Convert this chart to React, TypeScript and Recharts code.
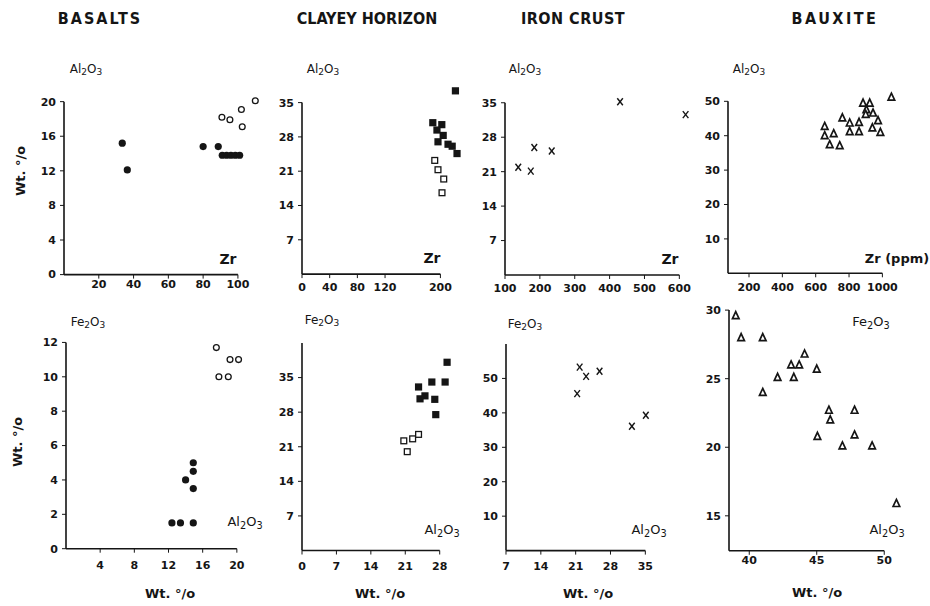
import React from 'react'
import { ScatterChart, Scatter, XAxis, YAxis, ReferenceLine } from 'recharts'

// ---- values ----
// top row: Al2O3 (wt %) against Zr (ppm)
const basaltZrFresh = [
  { x: 33.5, y: 15.2 }, { x: 36.4, y: 12.1 }, { x: 80, y: 14.8 }, { x: 88.7, y: 14.8 },
  { x: 91, y: 13.8 }, { x: 93.5, y: 13.8 }, { x: 96, y: 13.8 }, { x: 98.5, y: 13.8 }, { x: 101, y: 13.8 },
]
const basaltZrAltered = [
  { x: 90.8, y: 18.2 }, { x: 95.4, y: 17.9 }, { x: 102, y: 19.1 }, { x: 102.5, y: 17.1 }, { x: 110, y: 20.1 },
]
const clayZrUpper = [
  { x: 221.7, y: 37.4 }, { x: 189, y: 30.9 }, { x: 202, y: 30.5 }, { x: 195, y: 29.4 }, { x: 204, y: 28.3 },
  { x: 196.5, y: 27 }, { x: 211, y: 26.5 }, { x: 217, y: 26.1 }, { x: 224, y: 24.6 },
]
const clayZrLower = [
  { x: 191.8, y: 23.2 }, { x: 196.5, y: 21.3 }, { x: 204.8, y: 19.4 }, { x: 202.3, y: 16.6 },
]
const ironZr = [
  { x: 138, y: 21.9 }, { x: 174, y: 21.1 }, { x: 184, y: 25.9 }, { x: 234, y: 25.2 }, { x: 430, y: 35.2 }, { x: 618, y: 32.6 },
]
const bauxiteZr = [
  { x: 654, y: 42.7 }, { x: 654, y: 40.0 }, { x: 708, y: 40.6 }, { x: 684, y: 37.4 }, { x: 744, y: 37.1 },
  { x: 760, y: 45.2 }, { x: 804, y: 43.7 }, { x: 804, y: 41.2 }, { x: 860, y: 43.9 }, { x: 860, y: 41.2 },
  { x: 884, y: 49.5 }, { x: 924, y: 49.5 }, { x: 904, y: 47.6 }, { x: 900, y: 46.2 }, { x: 944, y: 46.6 },
  { x: 974, y: 44.4 }, { x: 940, y: 42.3 }, { x: 988, y: 41.0 }, { x: 1054, y: 51.2 },
]

// bottom row: Fe2O3 (wt %) against Al2O3 (wt %)
const basaltFeFresh = [
  { x: 12.4, y: 1.5 }, { x: 13.4, y: 1.5 }, { x: 14.9, y: 1.5 }, { x: 14, y: 4.0 },
  { x: 14.9, y: 3.5 }, { x: 14.9, y: 4.5 }, { x: 14.9, y: 5.0 },
]
const basaltFeAltered = [
  { x: 17.6, y: 11.7 }, { x: 17.9, y: 10 }, { x: 19, y: 10 }, { x: 19.2, y: 11 }, { x: 20.2, y: 11 },
]
const clayFeUpper = [
  { x: 29.5, y: 38.1 }, { x: 23.7, y: 33.1 }, { x: 26.4, y: 34.1 }, { x: 29.1, y: 34.1 }, { x: 24, y: 30.7 },
  { x: 25, y: 31.3 }, { x: 27, y: 30.6 }, { x: 27.2, y: 27.5 },
]
const clayFeLower = [
  { x: 20.7, y: 22.2 }, { x: 21.4, y: 20 }, { x: 22.5, y: 22.6 }, { x: 23.7, y: 23.5 },
]
const ironFe = [
  { x: 21.3, y: 45.6 }, { x: 21.8, y: 53.3 }, { x: 23.1, y: 50.6 }, { x: 25.8, y: 52.1 }, { x: 32.3, y: 36.1 }, { x: 35.1, y: 39.3 },
]
const bauxiteFe = [
  { x: 39, y: 29.6 }, { x: 39.4, y: 28 }, { x: 41, y: 28 }, { x: 41, y: 24 }, { x: 42.1, y: 25.1 },
  { x: 43.1, y: 26 }, { x: 43.3, y: 25.1 }, { x: 43.7, y: 26 }, { x: 44.1, y: 26.8 }, { x: 45, y: 25.7 },
  { x: 45.05, y: 20.8 }, { x: 45.9, y: 22.7 }, { x: 46, y: 22 }, { x: 46.9, y: 20.1 }, { x: 47.8, y: 22.7 },
  { x: 47.8, y: 20.9 }, { x: 49.1, y: 20.1 }, { x: 50.9, y: 15.9 },
]

// ---- marker shapes ----
const ink = '#151515'
const dot = (p: any) => <circle cx={p.cx} cy={p.cy} r={3.6} fill={ink} />
const ring = (p: any) => <circle cx={p.cx} cy={p.cy} r={2.9} fill="#fff" stroke={ink} strokeWidth={1.3} />
const block = (p: any) => <rect x={p.cx - 3.6} y={p.cy - 3.6} width={7.2} height={7.2} fill={ink} />
const box = (p: any) => <rect x={p.cx - 2.9} y={p.cy - 2.9} width={5.8} height={5.8} fill="#fff" stroke={ink} strokeWidth={1.3} />
const cross = (p: any) => (
  <g stroke={ink} strokeWidth={1.4}>
    <line x1={p.cx - 2.8} y1={p.cy - 3.5} x2={p.cx + 2.8} y2={p.cy + 3.5} />
    <line x1={p.cx + 2.8} y1={p.cy - 3.5} x2={p.cx - 2.8} y2={p.cy + 3.5} />
  </g>
)
const tri = (p: any) => (
  <path d={`M${p.cx},${p.cy - 4} L${p.cx + 3.3},${p.cy + 3} L${p.cx - 3.3},${p.cy + 3} Z`} fill="#fff" stroke={ink} strokeWidth={1.7} />
)

type Panel = {
  plot: [number, number, number, number] // left, right, top, bottom of the plot area on the page
  xDomain: [number, number]
  yDomain: [number, number]
  xTicks: number[]
  yTicks: number[]
  xEnd: number
  yEnd: number
  xGap: number
  series: { data: { x: number; y: number }[]; shape: any }[]
}

const panels: Panel[] = [
  { plot: [64, 264, 93.4, 275], xDomain: [0, 115], yDomain: [0, 21], xTicks: [20, 40, 60, 80, 100], yTicks: [0, 4, 8, 12, 16, 20], xEnd: 100, yEnd: 20, xGap: 2,
    series: [{ data: basaltZrFresh, shape: dot }, { data: basaltZrAltered, shape: ring }] },
  { plot: [302.3, 460.1, 82.7, 273.8], xDomain: [0, 228], yDomain: [0, 39], xTicks: [0, 40, 80, 120, 200], yTicks: [7, 14, 21, 28, 35], xEnd: 200, yEnd: 35, xGap: 5,
    series: [{ data: clayZrUpper, shape: block }, { data: clayZrLower, shape: box }] },
  { plot: [505, 689.8, 87.5, 274.5], xDomain: [100, 630], yDomain: [0, 38], xTicks: [100, 200, 300, 400, 500, 600], yTicks: [7, 14, 21, 28, 35], xEnd: 600, yEnd: 35, xGap: 5,
    series: [{ data: ironZr, shape: cross }] },
  { plot: [728.3, 895.2, 91.4, 273.7], xDomain: [74, 1075], yDomain: [0, 53], xTicks: [200, 400, 600, 800, 1000], yTicks: [10, 20, 30, 40, 50], xEnd: 1000, yEnd: 50, xGap: 6,
    series: [{ data: bauxiteZr, shape: tri }] },
  { plot: [65.8, 245.2, 339.3, 549], xDomain: [0, 21], yDomain: [0, 12.2], xTicks: [4, 8, 12, 16, 20], yTicks: [0, 2, 4, 6, 8, 10, 12], xEnd: 20, yEnd: 12, xGap: 9,
    series: [{ data: basaltFeFresh, shape: dot }, { data: basaltFeAltered, shape: ring }] },
  { plot: [302.3, 452.3, 343.2, 550.7], xDomain: [0, 30.5], yDomain: [0, 42], xTicks: [0, 7, 14, 21, 28], yTicks: [7, 14, 21, 28, 35], xEnd: 28, yEnd: 42, xGap: 8,
    series: [{ data: clayFeUpper, shape: block }, { data: clayFeLower, shape: box }] },
  { plot: [505.7, 652.5, 343.7, 550.3], xDomain: [7, 36.5], yDomain: [0, 60], xTicks: [7, 14, 21, 28, 35], yTicks: [10, 20, 30, 40, 50], xEnd: 35, yEnd: 60, xGap: 8,
    series: [{ data: ironFe, shape: cross }] },
  { plot: [729, 904.5, 305.9, 550.7], xDomain: [38.5, 51.5], yDomain: [12.45, 30.3], xTicks: [40, 45, 50], yTicks: [15, 20, 25, 30], xEnd: 50, yEnd: 30, xGap: 1,
    series: [{ data: bauxiteFe, shape: tri }] },
]

const AXIS_W = 40
const AXIS_H = 30
const PAD = 8
const tickFont = { fill: ink, fontSize: 11, fontWeight: 700, fontFamily: 'DejaVu Sans' }

function ScatterPanel({ p }: { p: Panel }) {
  const [L, R, T, B] = p.plot
  const [x0] = p.xDomain
  const [y0] = p.yDomain
  return (
    <div style={{ position: 'absolute', left: L - AXIS_W, top: T - PAD }}>
      <ScatterChart width={R - L + AXIS_W + PAD} height={B - T + AXIS_H + PAD} margin={{ top: PAD, right: PAD, bottom: 0, left: 0 }}>
        <XAxis type="number" dataKey="x" domain={p.xDomain} ticks={p.xTicks} interval={0} height={AXIS_H}
          axisLine={false} tickSize={4} tickMargin={p.xGap} tickLine={{ stroke: ink }} tick={tickFont} />
        <YAxis type="number" dataKey="y" domain={p.yDomain} ticks={p.yTicks} interval={0} width={AXIS_W}
          axisLine={false} tickSize={4} tickMargin={4} tickLine={{ stroke: ink }} tick={tickFont} />
        <ReferenceLine segment={[{ x: x0, y: y0 }, { x: p.xEnd, y: y0 }]} stroke={ink} strokeWidth={1.6} ifOverflow="visible" />
        <ReferenceLine segment={[{ x: x0, y: y0 }, { x: x0, y: p.yEnd }]} stroke={ink} strokeWidth={1.6} ifOverflow="visible" />
        {p.series.map((s, i) => (
          <Scatter key={i} data={s.data} shape={s.shape} isAnimationActive={false} />
        ))}
      </ScatterChart>
    </div>
  )
}

const Txt = ({ x, y, size = 13, weight = 400, spacing = 0, rotate = 0, family = 'DejaVu Sans', children }: any) => (
  <div style={{
    position: 'absolute', left: x, top: y, transform: `translate(-50%, -50%) rotate(${rotate}deg)`,
    fontSize: size, fontWeight: weight, letterSpacing: spacing, fontFamily: family, color: ink, whiteSpace: 'nowrap', lineHeight: 1,
  }}>{children}</div>
)

const sub = { fontSize: '0.75em', verticalAlign: '-0.3em' }
const Al = () => <>Al<span style={sub}>2</span>O<span style={sub}>3</span></>
const Fe = () => <>Fe<span style={sub}>2</span>O<span style={sub}>3</span></>

const titleFont = "'DejaVu Sans Condensed', 'Liberation Sans Narrow', 'DejaVu Sans', sans-serif"

export default function App() {
  return (
    <div style={{ position: 'absolute', left: 0, top: 0, width: 930, height: 606, background: '#fff', overflow: 'hidden' }}>
      <Txt x={100} y={19} size={16} weight={700} spacing={2} family={titleFont}>BASALTS</Txt>
      <Txt x={367} y={19} size={16} weight={700} spacing={0} family={titleFont}>CLAYEY HORIZON</Txt>
      <Txt x={573} y={19} size={16} weight={700} spacing={0.5} family={titleFont}>IRON CRUST</Txt>
      <Txt x={835} y={19} size={16} weight={700} spacing={2.5} family={titleFont}>BAUXITE</Txt>

      <Txt x={86} y={70} size={12}><Al /></Txt>
      <Txt x={323} y={70} size={12}><Al /></Txt>
      <Txt x={525} y={70} size={12}><Al /></Txt>
      <Txt x={749} y={70} size={12}><Al /></Txt>

      <Txt x={228} y={259} size={14} weight={700}>Zr</Txt>
      <Txt x={432} y={258} size={14} weight={700}>Zr</Txt>
      <Txt x={670} y={259} size={14} weight={700}>Zr</Txt>
      <Txt x={897} y={258} size={13} weight={700}>Zr (ppm)</Txt>

      <Txt x={88} y={323} size={12}><Fe /></Txt>
      <Txt x={322} y={321} size={12}><Fe /></Txt>
      <Txt x={525} y={325} size={12}><Fe /></Txt>
      <Txt x={871} y={323} size={13}><Fe /></Txt>

      <Txt x={245} y={523} size={13}><Al /></Txt>
      <Txt x={442} y={531} size={13}><Al /></Txt>
      <Txt x={649} y={531} size={13}><Al /></Txt>
      <Txt x={887} y={531} size={13}><Al /></Txt>

      <Txt x={20} y={171} size={13} weight={700} rotate={-90}>Wt. °/o</Txt>
      <Txt x={17} y={442} size={13} weight={700} rotate={-90}>Wt. °/o</Txt>
      <Txt x={170} y={593} size={13} weight={700}>Wt. °/o</Txt>
      <Txt x={380} y={593} size={13} weight={700}>Wt. °/o</Txt>
      <Txt x={588} y={593} size={13} weight={700}>Wt. °/o</Txt>
      <Txt x={817} y={592} size={13} weight={700}>Wt. °/o</Txt>

      {panels.map((p, i) => <ScatterPanel key={i} p={p} />)}
    </div>
  )
}
